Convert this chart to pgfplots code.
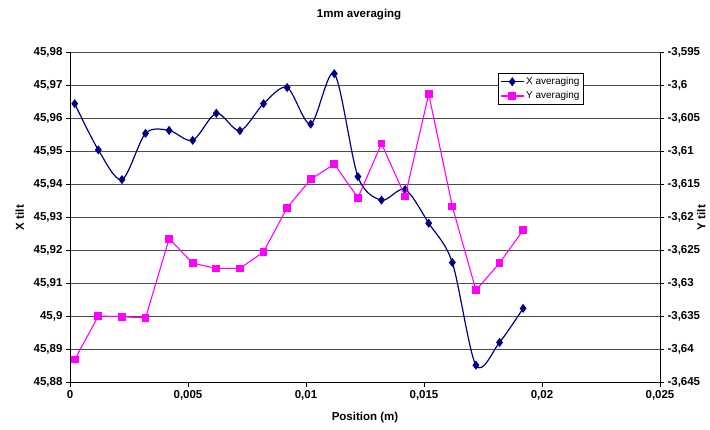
\documentclass[border=0pt]{standalone}
\usepackage{fontspec}
\setmainfont{Liberation Sans}
\usepackage{pgfplots}
\pgfplotsset{compat=1.18}

\definecolor{xnavy}{RGB}{0,0,128}
\definecolor{ymag}{RGB}{255,0,255}

\newcommand{\tickfont}{\fontsize{11.5}{13}\selectfont\bfseries}

\pgfplotsset{
  common/.style={
    at={(0,0)}, anchor=south west,
    scale only axis, width=590pt, height=330.2pt,
    xmin=0, xmax=0.025,
    scaled x ticks=false, scaled y ticks=false,
    axis line style={black, line width=0.8pt, -},
    tick style={black, line width=0.8pt},
    major tick length=4pt, tick align=outside,
    ticklabel style={font=\tickfont},
    label style={font=\tickfont},
    clip=false,
  },
}

\begin{document}
\begin{tikzpicture}[x=1pt,y=1pt]
\path[use as bounding box] (-70,-47.3) rectangle (640,382.7);

\begin{axis}[common,
  ymin=45.88, ymax=45.98,
  axis x line*=bottom, axis y line*=left,
  xtick={0,0.005,0.01,0.015,0.02,0.025},
  xticklabels={0,{0,005},{0,01},{0,015},{0,02},{0,025}},
  ytick={45.88,45.89,45.90,45.91,45.92,45.93,45.94,45.95,45.96,45.97,45.98},
  yticklabels={{45,88},{45,89},{45,9},{45,91},{45,92},{45,93},{45,94},{45,95},{45,96},{45,97},{45,98}},
  ymajorgrids, grid style={black!70, line width=0.8pt},
  xlabel={Position (m)},
  xlabel style={at={(axis description cs:0.5,-0.107)}, anchor=center},
  ylabel={X tilt},
  ylabel style={at={(axis description cs:-0.085,0.5)}, anchor=center},
  title={1mm averaging},
  title style={font=\tickfont, at={(axis description cs:0.49,1.098)}, anchor=center},
]
\addplot[xnavy, line width=1.2pt, smooth, tension=0.5,
  mark=diamond*, mark size=3.6pt, mark options={solid, fill=xnavy}]
  coordinates {
  (0.0002,45.9645)(0.0012,45.9505)(0.0022,45.9415)(0.0032,45.9555)
  (0.0042,45.9564)(0.0052,45.9534)(0.0062,45.9616)(0.0072,45.9563)
  (0.0082,45.9645)(0.0092,45.9694)(0.0102,45.9583)(0.0112,45.9736)
  (0.0122,45.9424)(0.0132,45.9353)(0.0142,45.9385)(0.0152,45.9283)
  (0.0162,45.9164)(0.0172,45.8853)(0.0182,45.8922)(0.0192,45.9025)};
\end{axis}

\begin{axis}[common,
  ymin=-3.645, ymax=-3.595,
  axis y line*=right, axis x line=none,
  ytick={-3.645,-3.64,-3.635,-3.63,-3.625,-3.62,-3.615,-3.61,-3.605,-3.6,-3.595},
  yticklabels={{-3,645},{-3,64},{-3,635},{-3,63},{-3,625},{-3,62},{-3,615},{-3,61},{-3,605},{-3,6},{-3,595}},
  ylabel={Y tilt},
  ylabel style={at={(axis description cs:1.07,0.5)}, anchor=center},
  legend style={at={(axis description cs:0.7254,0.938)}, anchor=north west,
    draw=black, line width=0.8pt, fill=white,
    font=\fontsize{10}{12}\selectfont, inner sep=2pt, row sep=1.5pt},
  legend cell align=left,
  legend image code/.code={%
    \draw[mark repeat=2, mark phase=2]
      plot coordinates {(0pt,0pt) (11.3pt,0pt) (22.6pt,0pt)};},
]
\addlegendimage{xnavy, line width=1.2pt, mark=diamond*, mark size=3.6pt, mark options={solid, fill=xnavy}}
\addlegendentry{X averaging}
\addplot[ymag, line width=1.1pt,
  mark=square*, mark size=3.3pt, mark options={solid, fill=ymag}]
  coordinates {
  (0.0002,-3.6415)(0.0012,-3.6349)(0.0022,-3.6350)(0.0032,-3.6352)
  (0.0042,-3.6232)(0.0052,-3.6269)(0.0062,-3.6277)(0.0072,-3.6277)
  (0.0082,-3.6252)(0.0092,-3.6185)(0.0102,-3.6142)(0.0112,-3.6119)
  (0.0122,-3.6170)(0.0132,-3.6088)(0.0142,-3.6168)(0.0152,-3.6013)
  (0.0162,-3.6183)(0.0172,-3.6310)(0.0182,-3.6269)(0.0192,-3.6219)};
\addlegendentry{Y averaging}
\end{axis}
\end{tikzpicture}
\end{document}
